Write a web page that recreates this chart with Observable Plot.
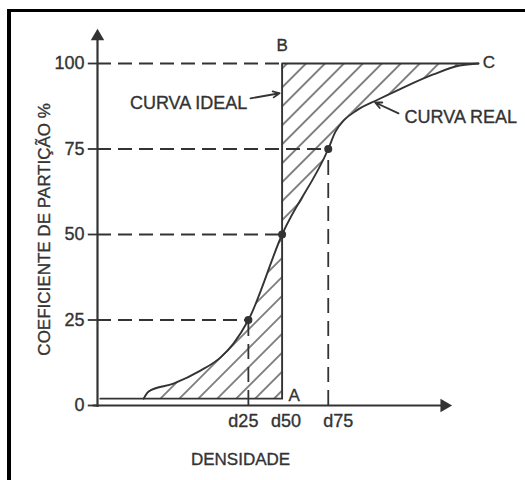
<!DOCTYPE html>
<html>
<head>
<meta charset="utf-8">
<script src="https://cdn.jsdelivr.net/npm/d3@7"></script>
<script src="https://cdn.jsdelivr.net/npm/@observablehq/plot@0.6"></script>
<style>
  html, body { margin: 0; padding: 0; background: #fff; }
  #wrap { position: relative; width: 525px; height: 480px; overflow: hidden; }
  #frame { position: absolute; left: 7px; top: 9px; width: 540px; height: 500px;
           border-top: 3px solid #000; border-left: 4px solid #000; pointer-events: none; }
  svg { font-family: "Liberation Sans", Arial, sans-serif; }
</style>
</head>
<body>
<div id="wrap"><div id="frame"></div></div>
<script>
// ---- data ----
// real partition curve (density in arbitrary units, partition coefficient %)
const realX = [13, 14.4, 21.4, 29, 34.6, 38.3, 42.5, 52, 65, 67, 69.5, 73, 78.9, 85.4, 94.6, 102, 107.3];
const realY = [2, 4.1, 6.4, 10.2, 14, 18.1, 25, 50, 75, 80, 83.5, 86.3, 89.4, 92.6, 96.8, 99.4, 100];
// ideal curve A-B-C
const idealX = [0.8, 52, 52, 107.3];
const idealY = [2, 2, 100, 100];
// characteristic densities
const dNames = ["d25", "d50", "d75"];
const dValues = [42.5, 52, 65];
const dLevels = [25, 50, 75];
const dLabelShift = [-5, 4, 10];
// y ticks
const yTicks = [0, 25, 50, 75, 100];
// labels
const yTitle = "COEFICIENTE DE PARTIÇÃO %";
const xTitle = "DENSIDADE";
const pointNames = ["A", "B", "C"];
const curveNames = ["CURVA IDEAL", "CURVA REAL"];

// ---- derived tables ----
const real = realX.map((x, i) => ({x, y: realY[i]}));
const ideal = idealX.map((x, i) => ({x, y: idealY[i]}));
const dPts = dNames.map((n, i) => ({name: n, x: dValues[i], y: dLevels[i], shift: dLabelShift[i]}));
const d50 = dValues[1];
const leftArea = real.filter(d => d.x <= d50);
const rightArea = real.filter(d => d.x >= d50);
const hGuides = [{y: 100, x: d50}, ...dPts.map(d => ({y: d.y, x: d.x}))];
const vGuides = dPts.filter(d => d.name !== "d50");

const ink = "#333";
const fs = 17;
const txt = {fill: ink, stroke: ink, strokeWidth: 0.35};

const chart = Plot.plot({
  width: 525,
  height: 480,
  x: {domain: [0, 100], range: [97, 452], axis: null},
  y: {domain: [0, 100], range: [405, 63], axis: null},
  style: {fontFamily: "Liberation Sans, Arial, sans-serif", background: "transparent"},
  marks: [
    // hatched regions between ideal and real curves
    Plot.areaY(leftArea, {x: "x", y1: 2, y2: "y", curve: "monotone-x", fill: "url(#hatch)"}),
    Plot.areaY(rightArea, {x: "x", y1: "y", y2: 100, curve: "monotone-x", fill: "url(#hatch)"}),
    // dashed guide lines
    Plot.ruleY(hGuides, {y: "y", x1: 0, x2: "x", stroke: ink, strokeWidth: 1.8, strokeDasharray: "14,7"}),
    Plot.ruleX(vGuides, {x: "x", y1: 0, y2: "y", stroke: ink, strokeWidth: 1.8, strokeDasharray: "15,8"}),
    // axes
    Plot.ruleY([0], {x1: -1.2, x2: 97.7, stroke: ink, strokeWidth: 2.2}),
    Plot.ruleX([0], {y1: -0.6, y2: 107.9, stroke: ink, strokeWidth: 2.2}),
    Plot.dot([{x: 0, y: 107.9}], {x: "x", y: "y", symbol: "triangle", r: 5, fill: ink, stroke: "none"}),
    Plot.dot([{x: 97.7, y: 0}], {x: "x", y: "y", symbol: "triangle", r: 5, fill: ink, stroke: "none", rotate: 90}),
    Plot.ruleY(yTicks, {x1: -2.6, x2: 0, stroke: ink, strokeWidth: 1.8}),
    Plot.text(yTicks, {x: 0, y: d => d, text: d => String(d), textAnchor: "end", dx: -13, fontSize: 18, ...txt}),
    // ideal and real curves
    Plot.line(ideal, {x: "x", y: "y", stroke: ink, strokeWidth: 1.9}),
    Plot.line(real, {x: "x", y: "y", curve: "monotone-x", stroke: ink, strokeWidth: 1.9}),
    Plot.dot(dPts, {x: "x", y: "y", r: 4, fill: ink, stroke: "none"}),
    // density labels
    ...dPts.map(d => Plot.text([d], {x: "x", y: 0, text: "name", dy: 16, dx: d.shift, fontSize: 18, ...txt})),
    // point labels A, B, C
    Plot.text([{x: 53.8, y: 2.9, t: pointNames[0]}], {x: "x", y: "y", text: "t", textAnchor: "start", fontSize: fs, ...txt}),
    Plot.text([{x: 52, y: 105.3, t: pointNames[1]}], {x: "x", y: "y", text: "t", fontSize: fs, ...txt}),
    Plot.text([{x: 108.5, y: 100.3, t: pointNames[2]}], {x: "x", y: "y", text: "t", textAnchor: "start", fontSize: fs, ...txt}),
    // curve annotations
    Plot.text([{x: 42.2, y: 88.3, t: curveNames[0]}], {x: "x", y: "y", text: "t", textAnchor: "end", fontSize: 18, ...txt}),
    Plot.arrow([{x1: 43.1, y1: 89.8, x2: 51.3, y2: 91.3}], {x1: "x1", y1: "y1", x2: "x2", y2: "y2", stroke: ink, strokeWidth: 1.8, headLength: 6, headAngle: 50}),
    Plot.text([{x: 86.5, y: 84.2, t: curveNames[1]}], {x: "x", y: "y", text: "t", textAnchor: "start", fontSize: 18, ...txt}),
    Plot.arrow([{x1: 84.8, y1: 85.4, x2: 78.2, y2: 88.6}], {x1: "x1", y1: "y1", x2: "x2", y2: "y2", stroke: ink, strokeWidth: 1.8, headLength: 6, headAngle: 50}),
    // axis titles
    Plot.text([{x: -15, y: 51.5, t: yTitle}], {x: "x", y: "y", text: "t", rotate: -90, fontSize: fs, ...txt}),
    Plot.text([{x: 40.3, y: -15.8, t: xTitle}], {x: "x", y: "y", text: "t", fontSize: fs, ...txt})
  ]
});

// hatch pattern definition
const NS = "http://www.w3.org/2000/svg";
const defs = document.createElementNS(NS, "defs");
const pat = document.createElementNS(NS, "pattern");
pat.setAttribute("id", "hatch");
pat.setAttribute("patternUnits", "userSpaceOnUse");
pat.setAttribute("width", "13.4");
pat.setAttribute("height", "10");
pat.setAttribute("patternTransform", "rotate(45)");
const ln = document.createElementNS(NS, "line");
ln.setAttribute("x1", "6.7"); ln.setAttribute("y1", "-1");
ln.setAttribute("x2", "6.7"); ln.setAttribute("y2", "11");
ln.setAttribute("stroke", ink);
ln.setAttribute("stroke-width", "1.2");
pat.appendChild(ln);
defs.appendChild(pat);
chart.insertBefore(defs, chart.firstChild);
chart.style.position = "absolute";
chart.style.left = "0";
chart.style.top = "0";
document.getElementById("wrap").insertBefore(chart, document.getElementById("frame"));
</script>
</body>
</html>
